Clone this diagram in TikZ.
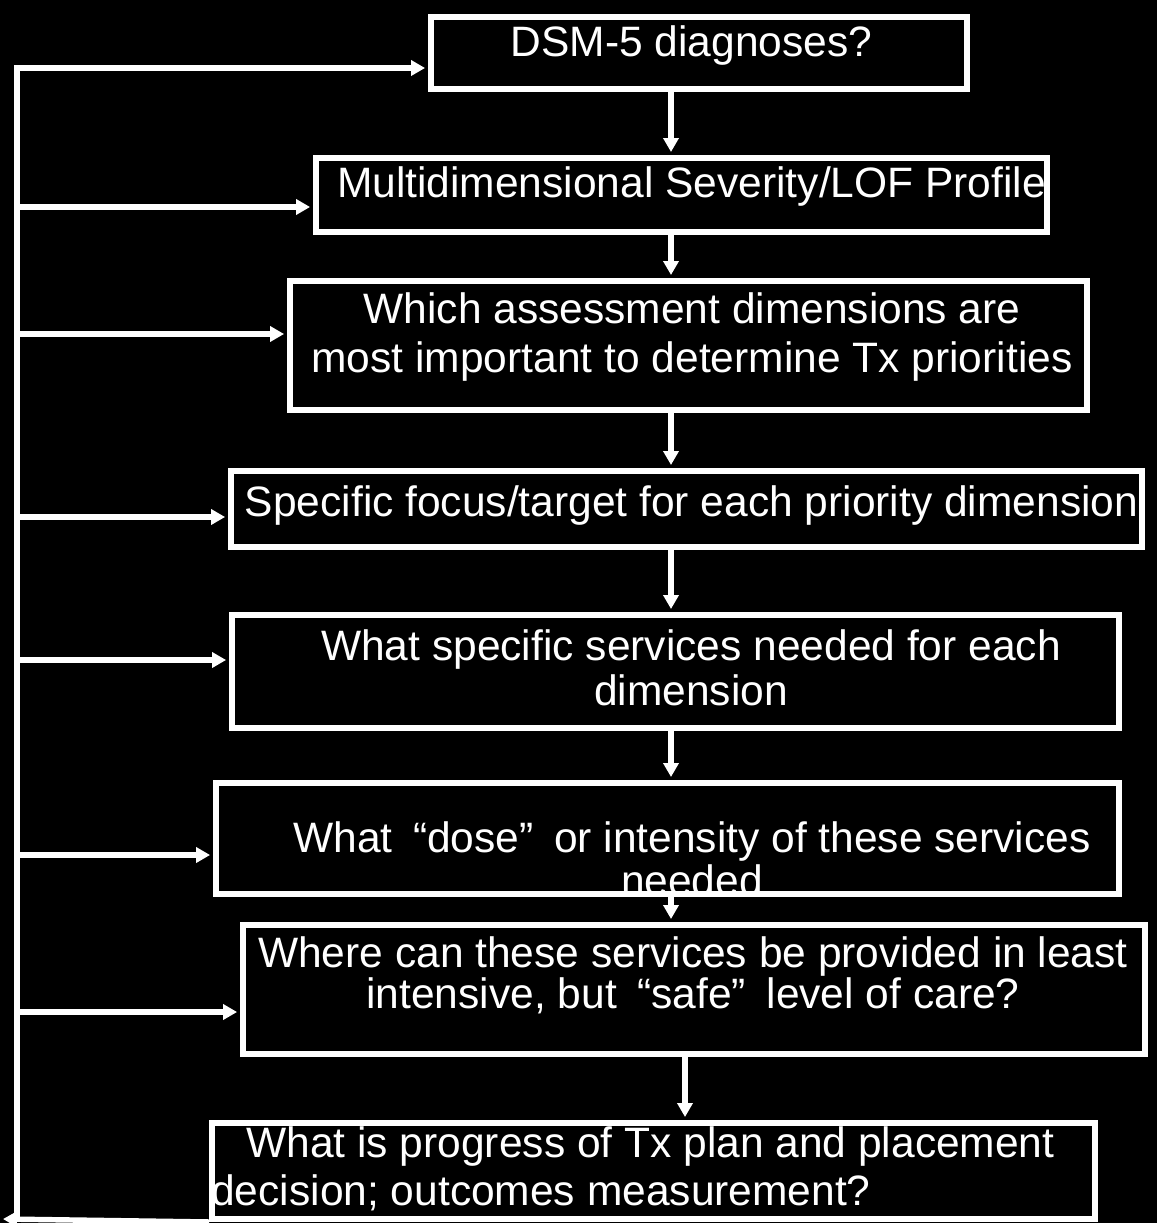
\documentclass[tikz,border=0pt]{standalone}
\usepackage{fontspec}
\setmainfont{Liberation Sans}
\usetikzlibrary{arrows.meta}
\begin{document}
\begin{tikzpicture}[x=0.02cm, y=-0.02cm,
        box/.style={rectangle, draw=white, line width=3.4pt, fill=black},
        txt/.style={text=white, align=center, inner sep=0pt, font=\fontsize{24.2pt}{#1}\selectfont},
        loopline/.style={draw=white, line width=3.1pt},
        arr/.style={loopline, -{Triangle[length=0.28cm, width=0.3cm]}, shorten >=0.06cm}]
        \fill[black] (0, 0) rectangle (1157, 1223);
        \useasboundingbox (0, 0) rectangle (1157, 1223);

        % boxes
        \node (b1) at (699, 53) [box, minimum width=10.72cm, minimum height=1.44cm] {};
        \node (b2) at (681.5, 195) [box, minimum width=14.62cm, minimum height=1.48cm] {};
        \node (b3) at (688.5, 345.5) [box, minimum width=15.94cm, minimum height=2.58cm] {};
        \node (b4) at (686.5, 509) [box, minimum width=18.22cm, minimum height=1.52cm] {};
        \node (b5) at (675.5, 671.5) [box, minimum width=17.74cm, minimum height=2.26cm] {};
        \node (b6) at (667.5, 838.5) [box, minimum width=18.06cm, minimum height=2.22cm] {};
        \node (b7) at (694, 989.5) [box, minimum width=18.04cm, minimum height=2.58cm] {};
        \node (b8) at (653.5, 1171) [box, minimum width=17.66cm, minimum height=1.92cm] {};

        % texts
        \node (t1) at (691.5, 46) [txt=28pt] {DSM-5 diagnoses?};
        \node (t2) at (691.5, 187) [txt=28pt] {Multidimensional Severity/LOF Profile};
        \node (t3) at (692, 337) [txt=28.3pt] {Which assessment dimensions are\\most important to determine Tx priorities};
        \node (t4) at (691.5, 506) [txt=28pt] {Specific focus/target for each priority dimension};
        \node (t5) at (691, 668) [txt=25.5pt] {What specific services needed for each\\dimension};
        \node (t6) at (692, 859) [txt=24.4pt] {What\hspace{0.41cm}“dose”\hspace{0.41cm}or intensity of these services\\needed};
        \node (t7) at (693, 975) [txt=22.1pt] {Where can these services be provided in least\\intensive, but\hspace{0.41cm}“safe”\hspace{0.41cm}level of care?};
        \node (t8) at (211, 1168.5) [txt=27.2pt, align=left, anchor=west] {\hspace*{0.7cm}What is progress of Tx plan and placement\\decision; outcomes measurement?};

        % downward arrows
        \coordinate (mid) at (671, 0);
        \coordinate (midlow) at (685, 0);
        \foreach \a/\b in {b1/b2, b2/b3, b3/b4, b4/b5, b5/b6, b6/b7}
            \draw[arr] (\a.south -| mid) -- (\b.north -| mid);
        \draw[arr] (b7.south -| midlow) -- (b8.north -| midlow);

        % feedback loop on the left
        \coordinate (looptop) at (17, 68);
        \coordinate (loopbot) at (17, 1219);
        \coordinate (loopend) at (3, 1219);
        \draw[arr, shorten >=0pt] (b8.south west) -- (loopend);
        \draw[arr] (loopbot) -- (looptop) -- (b1.west |- looptop);
        \foreach \b/\y in {b2/207, b3/334, b4/517, b5/660, b6/855, b7/1012}
            \draw[arr] (looptop |- 0, \y) -- (\b.west |- 0, \y);
\end{tikzpicture}
\end{document}
